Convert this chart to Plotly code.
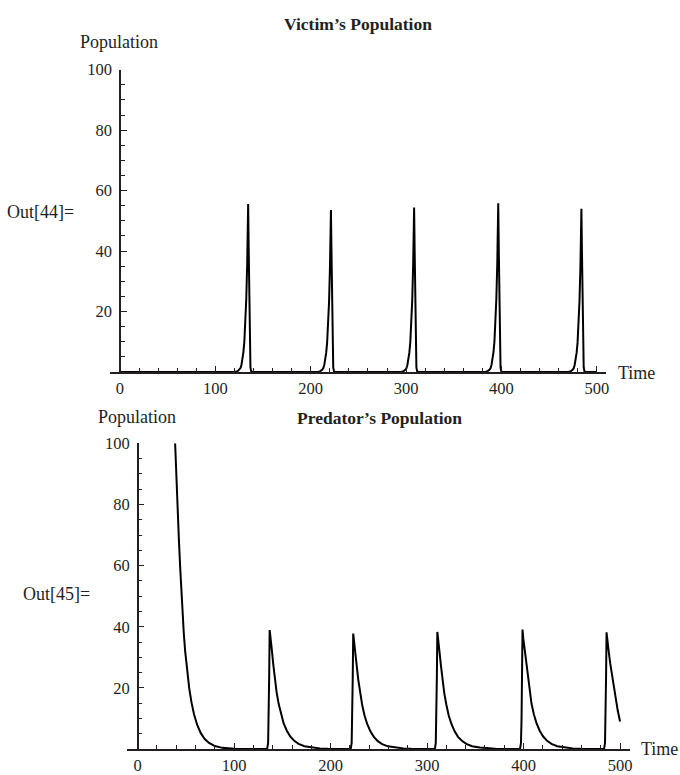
import plotly.graph_objects as go

# ---------------- data ----------------
# Victim's population: five spikes, ~0 in between
victim_start_t = [0.0, 110.0]
victim_start_v = [0.0, 0.0]
victim_s1_t = [121.4, 123.4, 125.4, 126.4, 127.4, 128.4, 129.4, 130.4, 131.4, 132.4, 133.4, 134.0, 134.4, 135.0, 135.6, 136.2, 136.8, 137.6, 139.0]
victim_s1_v = [0.1, 0.3, 0.8, 1.3, 2.4, 4.0, 6.5, 10, 15.5, 24, 36, 46, 55.6, 40, 20, 6, 1.5, 0.2, 0]
victim_s2_t = [208.2, 210.2, 212.2, 213.2, 214.2, 215.2, 216.2, 217.2, 218.2, 219.2, 220.2, 220.8, 221.2, 221.8, 222.4, 223.0, 223.6, 224.4, 225.8]
victim_s2_v = [0.1, 0.3, 0.8, 1.3, 2.3, 3.9, 6.3, 9.7, 15, 23, 35, 45, 53.6, 39, 19, 6, 1.5, 0.2, 0]
victim_s3_t = [295.4, 297.4, 299.4, 300.4, 301.4, 302.4, 303.4, 304.4, 305.4, 306.4, 307.4, 308.0, 308.4, 309.0, 309.6, 310.2, 310.8, 311.6, 313.0]
victim_s3_v = [0.1, 0.3, 0.8, 1.3, 2.4, 4.0, 6.4, 9.8, 15.2, 23.5, 35.5, 45.5, 54.4, 39.5, 19.5, 6, 1.5, 0.2, 0]
victim_s4_t = [383.6, 385.6, 387.6, 388.6, 389.6, 390.6, 391.6, 392.6, 393.6, 394.6, 395.6, 396.2, 396.6, 397.2, 397.8, 398.4, 399.0, 399.8, 401.2]
victim_s4_v = [0.1, 0.3, 0.8, 1.3, 2.4, 4.0, 6.5, 10, 15.6, 24, 36, 46, 55.8, 40, 20, 6, 1.5, 0.2, 0]
victim_s5_t = [470.8, 472.8, 474.8, 475.8, 476.8, 477.8, 478.8, 479.8, 480.8, 481.8, 482.8, 483.4, 483.8, 484.4, 485.0, 485.6, 486.2, 487.0, 488.4]
victim_s5_v = [0.1, 0.3, 0.8, 1.3, 2.4, 4.0, 6.4, 9.8, 15.2, 23.5, 35.5, 45.5, 54.0, 39.5, 19.5, 6, 1.5, 0.2, 0]
victim_end_t = [500.0]
victim_end_v = [0.0]

# Predator's population: initial decay, then five spikes
pred_init_t = [38.8, 40.0, 41.3, 42.7, 44.1, 45.2, 46.4, 47.8, 49.2, 51.2, 53.4, 55.8, 58.5, 61.8, 65.4, 69.5, 74.0, 80.0, 87.7, 100.0, 120.0]
pred_init_v = [100.0, 89.0, 79.0, 68.5, 59.0, 51.5, 44.5, 37.8, 32.0, 25.5, 19.9, 15.2, 11.2, 7.8, 5.2, 3.3, 2.0, 1.0, 0.4, 0.1, 0.0]
pred_s1_t = [134.2, 135.2, 135.8, 136.3, 136.8, 137.2, 137.6, 138.4, 139.2, 140.6, 142.0, 144.0, 146.1, 148.6, 151.3, 154.6, 158.2, 162.3, 166.8, 172.8, 180.8, 188.8, 196.8]
pred_s1_v = [0, 2, 10, 24, 38.9, 37.4, 36, 34, 32, 27.5, 23.4, 18.6, 14.8, 11.2, 8.4, 6.0, 4.1, 2.7, 1.7, 0.95, 0.5, 0.22, 0.1]
pred_s2_t = [220.8, 221.8, 222.4, 222.9, 223.4, 223.8, 224.2, 225.0, 225.8, 227.2, 228.6, 230.6, 232.7, 235.2, 237.9, 241.2, 244.8, 248.9, 253.4, 259.4, 267.4, 275.4, 283.4]
pred_s2_v = [0, 2, 10, 23, 37.8, 36.4, 35, 33, 31, 26.8, 22.8, 18.1, 14.4, 10.9, 8.2, 5.8, 4.0, 2.6, 1.6, 0.9, 0.5, 0.22, 0.1]
pred_s3_t = [308.0, 309.0, 309.6, 310.1, 310.6, 311.0, 311.4, 312.2, 313.0, 314.4, 315.8, 317.8, 319.9, 322.4, 325.1, 328.4, 332.0, 336.1, 340.6, 346.6, 354.6, 362.6, 370.6]
pred_s3_v = [0, 2, 10, 23.5, 38.3, 36.8, 35.4, 33.4, 31.4, 27.1, 23.0, 18.3, 14.6, 11.0, 8.3, 5.9, 4.0, 2.7, 1.7, 0.95, 0.5, 0.22, 0.1]
pred_s4_t = [396.3, 397.3, 397.9, 398.4, 398.9, 399.3, 399.7, 400.5, 401.3, 402.7, 404.1, 406.1, 408.2, 410.7, 413.4, 416.7, 420.3, 424.4, 428.9, 434.9, 442.9, 450.9, 458.9]
pred_s4_v = [0, 2, 10, 24, 39.1, 37.6, 36.2, 34.2, 32.2, 27.7, 23.5, 18.7, 14.9, 11.3, 8.5, 6.0, 4.1, 2.7, 1.7, 0.95, 0.5, 0.22, 0.1]
pred_s5_t = [483.4, 484.4, 485.0, 485.5, 486.0, 486.4, 486.8, 487.6, 488.4, 489.8, 491.2, 493.2, 495.3, 497.6, 500.0]
pred_s5_v = [0, 2, 10, 23.5, 38.2, 36.8, 35.3, 33.4, 31.5, 28.0, 25.0, 20.8, 17.0, 12.6, 9.0]

x_tick_vals = [0, 100, 200, 300, 400, 500]
x_tick_text = ["0", "100", "200", "300", "400", "500"]
y_tick_vals = [20, 40, 60, 80, 100]
y_tick_text = ["20", "40", "60", "80", "100"]

victim_t = victim_start_t + victim_s1_t + victim_s2_t + victim_s3_t + victim_s4_t + victim_s5_t + victim_end_t
victim_v = victim_start_v + victim_s1_v + victim_s2_v + victim_s3_v + victim_s4_v + victim_s5_v + victim_end_v
pred_t = pred_init_t + pred_s1_t + pred_s2_t + pred_s3_t + pred_s4_t + pred_s5_t
pred_v = pred_init_v + pred_s1_v + pred_s2_v + pred_s3_v + pred_s4_v + pred_s5_v

# ---------------- figure ----------------
W, H = 680, 775
FONT = "Liberation Serif"
TXT = "#231f20"
AX = "#231f20"

def px(x):
    return x / W

def py(y):
    return (H - y) / H

fig = go.Figure()
fig.add_trace(go.Scatter(x=victim_t, y=victim_v, mode="lines",
                         line=dict(color="#000000", width=2), xaxis="x", yaxis="y",
                         showlegend=False, hoverinfo="skip"))
fig.add_trace(go.Scatter(x=pred_t, y=pred_v, mode="lines",
                         line=dict(color="#000000", width=2), xaxis="x2", yaxis="y2",
                         showlegend=False, hoverinfo="skip"))

def xaxis_cfg(domain, rng, anchor):
    return dict(domain=domain, range=rng, anchor=anchor, showline=True, linecolor=AX,
                linewidth=1.5, showgrid=False, zeroline=False, ticks="inside", ticklen=6,
                tickwidth=1.3, tickcolor=AX, tickvals=x_tick_vals, ticktext=x_tick_text,
                tickfont=dict(family=FONT, size=16.5, color=TXT),
                minor=dict(ticks="inside", ticklen=4, tickwidth=1.1, tickcolor=AX, dtick=20, tick0=0,
                           showgrid=False),
                fixedrange=True)

def yaxis_cfg(domain, pos):
    return dict(domain=domain, range=[0, 100], anchor="free", position=pos, showline=True,
                linecolor=AX, linewidth=1.5, showgrid=False, zeroline=False, ticks="inside",
                ticklen=6, tickwidth=1.3, tickcolor=AX, tickvals=y_tick_vals, ticktext=y_tick_text,
                tickfont=dict(family=FONT, size=16.5, color=TXT), ticklabelstandoff=4,
                minor=dict(ticks="inside", ticklen=4, tickwidth=1.1, tickcolor=AX, dtick=5, tick0=0,
                           showgrid=False),
                fixedrange=True)

# top panel geometry (pixels): y=0 at 369.2, y=100 at 61.7; t=0 at 120.5, 0.958 px per unit
top_x0_px, top_x1_px = 110.0, 609.0
top_unit = 0.958
top_t0_px = 120.5
fig.update_layout(
    xaxis=xaxis_cfg([px(top_x0_px), px(top_x1_px)],
                    [(top_x0_px - top_t0_px) / top_unit, (top_x1_px - top_t0_px) / top_unit], "y"),
    yaxis=yaxis_cfg([py(369.2), py(61.7)], px(top_t0_px)),
)
# bottom panel geometry: y=0 at 752.7, y=100 at 441.7; t=0 at 138.3, 0.969 px per unit
bot_x0_px, bot_x1_px = 128.0, 633.0
bot_unit = 0.969
bot_t0_px = 138.3
fig.update_layout(
    xaxis2=xaxis_cfg([px(bot_x0_px), px(bot_x1_px)],
                     [(bot_x0_px - bot_t0_px) / bot_unit, (bot_x1_px - bot_t0_px) / bot_unit], "y2"),
    yaxis2=yaxis_cfg([py(752.7), py(441.7)], px(bot_t0_px)),
)

def ann(text, x, y, size=16, bold=False, xanchor="center"):
    return dict(text=("<b>%s</b>" % text) if bold else text, x=px(x), y=py(y), xref="paper",
                yref="paper", xanchor=xanchor, yanchor="middle", showarrow=False,
                font=dict(family=FONT, size=size, color=TXT))

fig.update_layout(
    width=W, height=H, margin=dict(l=0, r=0, t=0, b=0, pad=0),
    paper_bgcolor="white", plot_bgcolor="white", showlegend=False,
    annotations=[
        ann("Victim\u2019s Population", 359.6, 15, size=17.5, bold=True),
        ann("Population", 120, 34, size=18),
        ann("Out[44]=", 5, 206, size=18, xanchor="left"),
        ann("Time", 619, 370, size=18, xanchor="left"),
        ann("Population", 137.2, 415, size=18),
        ann("Predator\u2019s Population", 381, 416, size=17.5, bold=True),
        ann("Out[45]=", 21, 595, size=18, xanchor="left"),
        ann("Time", 642, 753, size=18, xanchor="left"),
    ],
)

fig.write_html("out.html")
